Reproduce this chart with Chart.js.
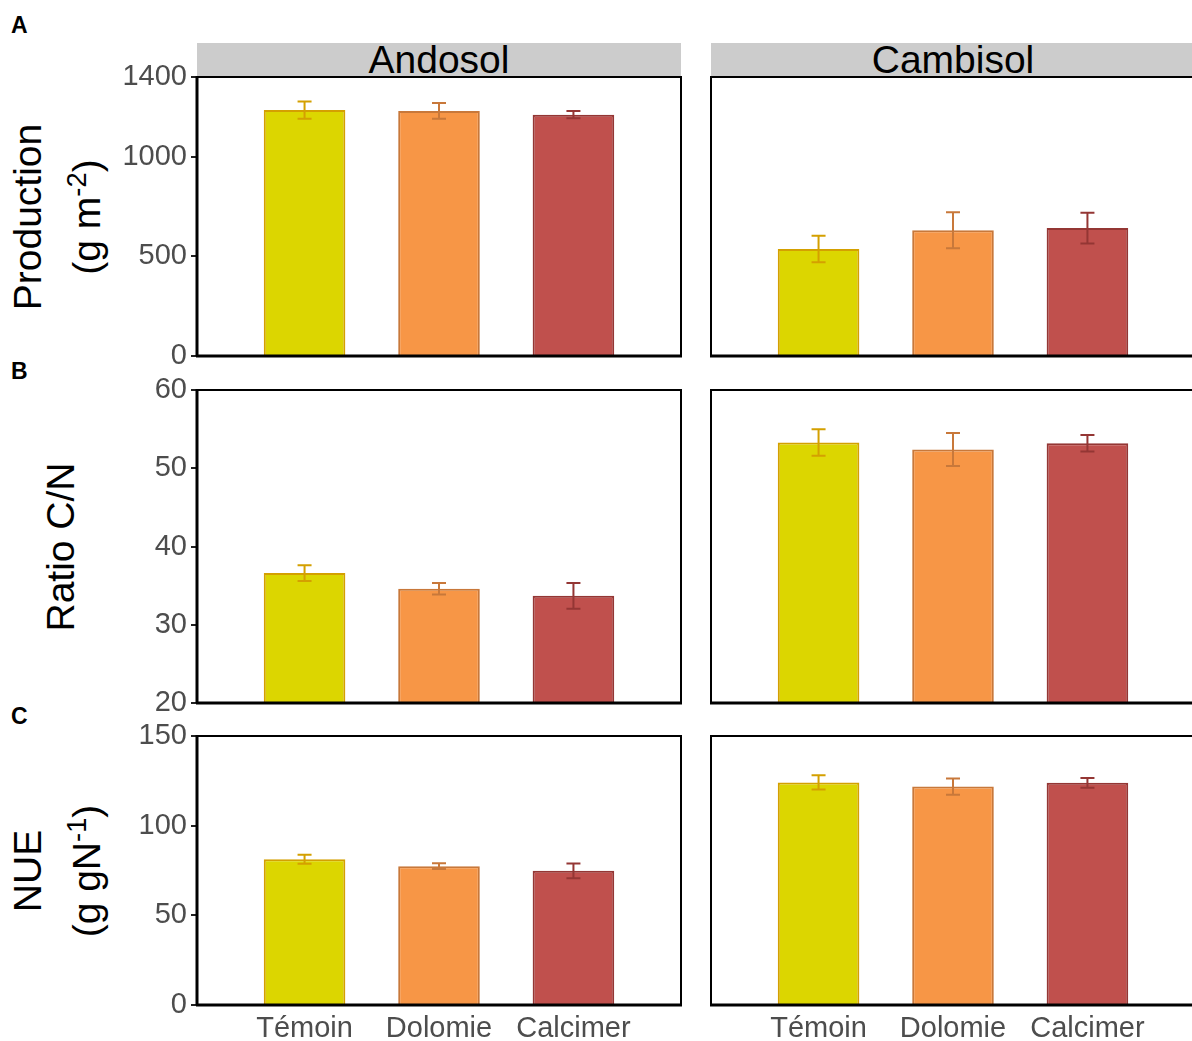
<!DOCTYPE html>
<html><head><meta charset="utf-8">
<script src="https://cdn.jsdelivr.net/npm/chart.js@4/dist/chart.umd.min.js"></script>
<style>
html,body{margin:0;padding:0;width:1192px;height:1041px;overflow:hidden;background:#fff;font-family:"Liberation Sans",Arial,sans-serif;}
canvas{position:absolute;}
.strip{position:absolute;background:#cccccc;height:34px;top:43px;line-height:34px;font-size:39px;text-align:center;color:#000;white-space:nowrap;}
.letter{position:absolute;font-weight:bold;font-size:23px;line-height:23px;color:#000;}
.ytitle{position:absolute;font-size:39px;line-height:39px;white-space:nowrap;transform:translate(-50%,-50%) rotate(-90deg);color:#000;}
.ytitle sup{font-size:0.7em;line-height:0;vertical-align:0.5em;}
</style></head><body>
<div class="letter" style="left:11px;top:14px;">A</div>
<div class="letter" style="left:11px;top:360px;">B</div>
<div class="letter" style="left:11px;top:705px;">C</div>
<div class="strip" style="left:197px;width:484px;" id="strip0"></div>
<div class="strip" style="left:711px;width:484px;" id="strip1"></div>
<div class="ytitle" style="left:26.5px;top:216.5px;">Production</div>
<div class="ytitle" style="left:85.5px;top:216.5px;">(g m<sup>-2</sup>)</div>
<div class="ytitle" style="left:59.5px;top:546.5px;">Ratio C/N</div>
<div class="ytitle" style="left:26.5px;top:870.5px;">NUE</div>
<div class="ytitle" style="left:85.5px;top:870.5px;">(g gN<sup>-1</sup>)</div>
<script>
const categories = ['Témoin', 'Dolomie', 'Calcimer'];
const soils = ['Andosol', 'Cambisol'];

const productionAndosol = [1234, 1230, 1211];
const productionAndosolSE = [43, 40, 18];
const productionCambisol = [537, 631, 642];
const productionCambisolSE = [66, 90, 77];

const cnAndosol = [36.6, 34.6, 33.7];
const cnAndosolSE = [1.0, 0.75, 1.65];
const cnCambisol = [53.3, 52.4, 53.2];
const cnCambisolSE = [1.7, 2.1, 1.05];

const nueAndosol = [81.3, 77.4, 74.8];
const nueAndosolSE = [2.5, 1.6, 4.15];
const nueCambisol = [124.1, 121.8, 123.9];
const nueCambisolSE = [4.0, 4.5, 2.7];

const productionTicks = [0, 500, 1000, 1400];
const cnTicks = [20, 30, 40, 50, 60];
const nueTicks = [0, 50, 100, 150];

const fillColors = ['#DCD600', '#F79646', '#C0504D'];
const edgeColors = ['#D4A000', '#C8783A', '#943634'];

document.getElementById('strip0').textContent = soils[0];
document.getElementById('strip1').textContent = soils[1];

const FONT = '"Liberation Sans", Arial, sans-serif';

const panelPlugin = {
  id: 'panel',
  afterDatasetsDraw(chart, args, opts) {
    const ctx = chart.ctx, a = chart.chartArea;
    const meta = chart.getDatasetMeta(0);
    const ys = chart.scales.y;
    const data = chart.data.datasets[0].data;
    ctx.save();
    meta.data.forEach((bar, i) => {
      const v = data[i].y, e = opts.se[i];
      const yt = ys.getPixelForValue(v + e), yb = ys.getPixelForValue(v - e);
      ctx.strokeStyle = edgeColors[i];
      ctx.lineWidth = 2;
      ctx.beginPath();
      ctx.moveTo(bar.x, yt); ctx.lineTo(bar.x, yb);
      ctx.moveTo(bar.x - 7, yt); ctx.lineTo(bar.x + 7, yt);
      ctx.moveTo(bar.x - 7, yb); ctx.lineTo(bar.x + 7, yb);
      ctx.stroke();
    });
    ctx.strokeStyle = '#000';
    ctx.lineWidth = 2;
    ctx.strokeRect(a.left, a.top, a.right - a.left, a.bottom - a.top);
    ctx.lineWidth = 3;
    ctx.beginPath();
    ctx.moveTo(a.left - 1, a.bottom); ctx.lineTo(a.right + 1, a.bottom);
    if (opts.leftAxis) { ctx.moveTo(a.left, a.top - 1); ctx.lineTo(a.left, a.bottom); }
    ctx.stroke();
    ctx.restore();
  }
};

function makePanel(cfg) {
  const cv = document.createElement('canvas');
  cv.width = cfg.w; cv.height = cfg.h;
  cv.style.left = cfg.left + 'px'; cv.style.top = cfg.top + 'px';
  cv.style.width = cfg.w + 'px'; cv.style.height = cfg.h + 'px';
  document.body.appendChild(cv);
  const positions = categories.map((c, i) => i + 1);
  new Chart(cv, {
    type: 'bar',
    data: {
      datasets: [{
        data: cfg.values.map((v, i) => ({ x: positions[i], y: v })),
        backgroundColor: fillColors,
        borderColor: edgeColors,
        borderWidth: 2,
        borderSkipped: 'start',
        categoryPercentage: 1,
        barPercentage: 0.607
      }]
    },
    options: {
      responsive: false,
      animation: false,
      events: [],
      layout: { padding: cfg.padding },
      plugins: {
        legend: { display: false },
        tooltip: { enabled: false },
        panel: { se: cfg.se, leftAxis: cfg.leftAxis }
      },
      scales: {
        x: {
          type: 'linear',
          min: 0.2, max: 3.8,
          offset: false,
          display: cfg.showX,
          afterBuildTicks: s => { s.ticks = positions.map(p => ({ value: p })); },
          afterFit: s => { if (cfg.showX) s.height = 36; },
          grid: { display: false, drawTicks: false },
          border: { display: false },
          ticks: {
            padding: 7,
            color: '#4D4D4D',
            font: { family: FONT, size: 29 },
            maxRotation: 0,
            autoSkip: false,
            callback: (v) => categories[Math.round(v) - 1] || ''
          }
        },
        y: {
          type: 'linear',
          min: cfg.ticks[0], max: cfg.ticks[cfg.ticks.length - 1],
          display: cfg.leftAxis,
          afterBuildTicks: s => { s.ticks = cfg.ticks.map(t => ({ value: t })); },
          afterFit: s => { if (cfg.leftAxis) s.width = 97; },
          grid: { display: true, drawOnChartArea: false, drawTicks: true, tickLength: 6, color: '#222', lineWidth: 2 },
          border: { display: false },
          ticks: {
            padding: 4,
            color: '#4D4D4D',
            font: { family: FONT, size: 29 },
            autoSkip: false,
            callback: (v) => String(v)
          }
        }
      }
    },
    plugins: [panelPlugin]
  });
}

const rows = [
  { top: 52, h: 334, pad: { top: 25, bottom: 30 }, ticks: productionTicks, vals: [productionAndosol, productionCambisol], se: [productionAndosolSE, productionCambisolSE], showX: false },
  { top: 365, h: 368, pad: { top: 25, bottom: 30 }, ticks: cnTicks, vals: [cnAndosol, cnCambisol], se: [cnAndosolSE, cnCambisolSE], showX: false },
  { top: 711, h: 330, pad: { top: 25, bottom: 0 }, ticks: nueTicks, vals: [nueAndosol, nueCambisol], se: [nueAndosolSE, nueCambisolSE], showX: true }
];

rows.forEach(r => {
  makePanel({ left: 0, top: r.top, w: 690, h: r.h, padding: { left: 100, right: 9, top: r.pad.top, bottom: r.pad.bottom },
    ticks: r.ticks, values: r.vals[0], se: r.se[0], leftAxis: true, showX: r.showX });
  makePanel({ left: 700, top: r.top, w: 500, h: r.h, padding: { left: 11, right: 5, top: r.pad.top, bottom: r.pad.bottom },
    ticks: r.ticks, values: r.vals[1], se: r.se[1], leftAxis: false, showX: r.showX });
});
</script>
</body></html>
